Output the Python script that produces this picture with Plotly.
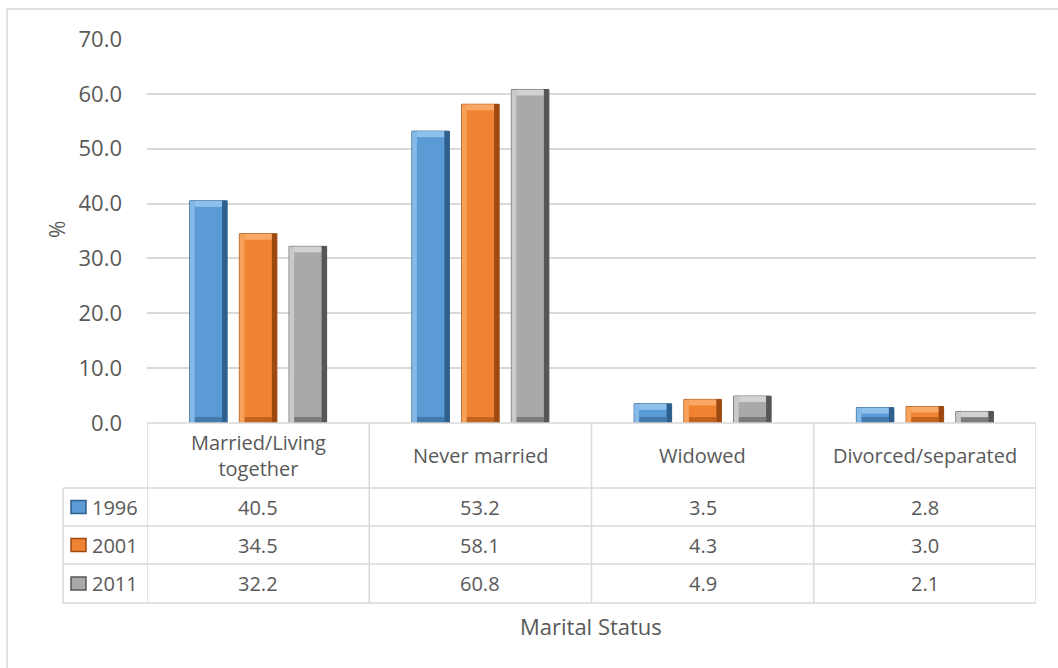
import plotly.graph_objects as go

# Marital status distribution by census year (%)
categories = ["Married/Living together", "Never married", "Widowed", "Divorced/separated"]
category_labels = ["Married/Living<br>together", "Never married", "Widowed", "Divorced/separated"]
years = ["1996", "2001", "2011"]
values_1996 = [40.5, 53.2, 3.5, 2.8]
values_2001 = [34.5, 58.1, 4.3, 3.0]
values_2011 = [32.2, 60.8, 4.9, 2.1]
y_ticks = [0, 10, 20, 30, 40, 50, 60, 70]

series = [values_1996, values_2001, values_2011]
# (body, light edge, dark edge) per series
palettes = [
    ("#5B9BD5", "#8EC0EC", "#2F5F8C"),
    ("#F08331", "#F9A965", "#9C4A12"),
    ("#A9A9A9", "#D2D2D2", "#555555"),
]

W, H = 1058, 668
FONT = "Open Sans"
TXT = "#595959"
GRID = "#D9D9D9"

plot_left, plot_right, plot_top, plot_bottom = 147, 1036, 39, 423
row_lines = [488, 526, 564, 603]
legend_left = 63

cat_px = (plot_right - plot_left) / len(categories)   # pixels per category
bar_w = 37.5 / cat_px                                 # bar width in category units
pitch = 49.75 / cat_px                                # distance between bar centres
edge_x = 5 / cat_px                                   # bevel strip width
px_per_unit = (plot_bottom - plot_top) / 70.0
edge_y = 6 / px_per_unit                              # bevel strip height in % units


def px_x(p):
    return p / W


def px_y(p):
    return 1 - p / H


x_idx = list(range(len(categories)))
fig = go.Figure()
for k, (yr, vals, (body, light, dark)) in enumerate(zip(years, series, palettes)):
    centre = (k - 1) * pitch
    left = centre - bar_w / 2
    # main bar body
    fig.add_trace(go.Bar(x=x_idx, y=vals, name=yr, width=bar_w, offset=left,
                         marker=dict(color=body, line=dict(color=dark, width=1)),
                         hovertemplate=yr + ": %{y:.1f}<extra></extra>"))
    # bevel: top highlight strip
    tops = [min(edge_y, v / 2) for v in vals]
    fig.add_trace(go.Bar(x=x_idx, y=tops, base=[v - t for v, t in zip(vals, tops)],
                         width=bar_w - 2 * edge_x, offset=left + edge_x,
                         marker=dict(color=light, line=dict(width=0)),
                         hoverinfo="skip", showlegend=False))
    # bevel: bottom shade strip
    fig.add_trace(go.Bar(x=x_idx, y=[min(edge_y, v / 2) for v in vals],
                         width=bar_w - 2 * edge_x, offset=left + edge_x,
                         marker=dict(color=dark, opacity=0.55, line=dict(width=0)),
                         hoverinfo="skip", showlegend=False))
    # bevel: left highlight strip
    fig.add_trace(go.Bar(x=x_idx, y=vals, width=edge_x, offset=left,
                         marker=dict(color=light, opacity=0.8, line=dict(width=0)),
                         hoverinfo="skip", showlegend=False))
    # bevel: right shade strip
    fig.add_trace(go.Bar(x=x_idx, y=vals, width=edge_x, offset=left + bar_w - edge_x,
                         marker=dict(color=dark, line=dict(width=0)),
                         hoverinfo="skip", showlegend=False))

shapes = []
# Outer chart border
shapes.append(dict(type="rect", xref="paper", yref="paper",
                   x0=px_x(7), x1=px_x(1070), y0=px_y(9), y1=px_y(680),
                   line=dict(color=GRID, width=1.5), fillcolor="rgba(0,0,0,0)", layer="below"))
# Data table: horizontal row lines
for r in row_lines:
    shapes.append(dict(type="line", xref="paper", yref="paper",
                       x0=px_x(legend_left), x1=px_x(plot_right), y0=px_y(r), y1=px_y(r),
                       line=dict(color=GRID, width=1.5)))
shapes.append(dict(type="line", xref="paper", yref="paper",
                   x0=px_x(plot_left), x1=px_x(plot_right), y0=px_y(plot_bottom), y1=px_y(plot_bottom),
                   line=dict(color=GRID, width=1.5)))
# Data table: category column separators on the category axis
for i in range(len(categories) + 1):
    shapes.append(dict(type="line", xref="x", yref="paper",
                       x0=i - 0.5, x1=i - 0.5, y0=px_y(plot_bottom), y1=px_y(row_lines[-1]),
                       line=dict(color=GRID, width=1.5)))
shapes.append(dict(type="line", xref="paper", yref="paper",
                   x0=px_x(legend_left), x1=px_x(legend_left), y0=px_y(row_lines[0]), y1=px_y(row_lines[-1]),
                   line=dict(color=GRID, width=1.5)))

annotations = []
header_mid = (plot_bottom + row_lines[0]) / 2
for i, lab in enumerate(category_labels):
    annotations.append(dict(x=i, y=px_y(header_mid), xref="x", yref="paper", text=lab,
                            showarrow=False, font=dict(family=FONT, size=20, color=TXT),
                            xanchor="center", yanchor="middle"))
for k, (yr, vals, (body, light, dark)) in enumerate(zip(years, series, palettes)):
    mid = (row_lines[k] + row_lines[k + 1]) / 2
    # legend key
    shapes.append(dict(type="rect", xref="paper", yref="paper",
                       x0=px_x(71), x1=px_x(86), y0=px_y(mid + 6.5), y1=px_y(mid - 6.5),
                       fillcolor=body, line=dict(color=dark, width=1.5)))
    annotations.append(dict(x=px_x(90), y=px_y(mid), xref="paper", yref="paper", text=yr,
                            showarrow=False, font=dict(family=FONT, size=20, color=TXT),
                            xanchor="left", yanchor="middle"))
    for i, v in enumerate(vals):
        annotations.append(dict(x=i, y=px_y(mid), xref="x", yref="paper", text=f"{v:.1f}",
                                showarrow=False, font=dict(family=FONT, size=20, color=TXT),
                                xanchor="center", yanchor="middle"))

annotations.append(dict(x=px_x(591), y=px_y(626), xref="paper", yref="paper", text="Marital Status",
                        showarrow=False, font=dict(family=FONT, size=22, color=TXT),
                        xanchor="center", yanchor="middle"))
annotations.append(dict(x=px_x(57), y=px_y(230), xref="paper", yref="paper", text="%",
                        showarrow=False, textangle=-90, font=dict(family=FONT, size=21, color=TXT),
                        xanchor="center", yanchor="middle"))

fig.update_layout(
    width=W, height=H,
    margin=dict(l=0, r=0, t=0, b=0, autoexpand=False),
    paper_bgcolor="white", plot_bgcolor="white",
    barmode="overlay",
    showlegend=False,
    font=dict(family=FONT, size=20, color=TXT),
    xaxis=dict(domain=[px_x(plot_left), px_x(plot_right)], range=[-0.5, 3.5],
               showticklabels=False, showgrid=False, zeroline=False, showline=False,
               ticks="", automargin=False),
    yaxis=dict(domain=[px_y(plot_bottom), px_y(plot_top)], range=[0, 70],
               tickvals=y_ticks, ticktext=[f"{t:.1f}" for t in y_ticks],
               showgrid=True, gridcolor=GRID, gridwidth=1.5, zeroline=False,
               showline=False, ticks="", ticklabelstandoff=24, automargin=False,
               tickfont=dict(family=FONT, size=22, color=TXT)),
    shapes=shapes,
    annotations=annotations,
)

fig.write_html("out.html")
